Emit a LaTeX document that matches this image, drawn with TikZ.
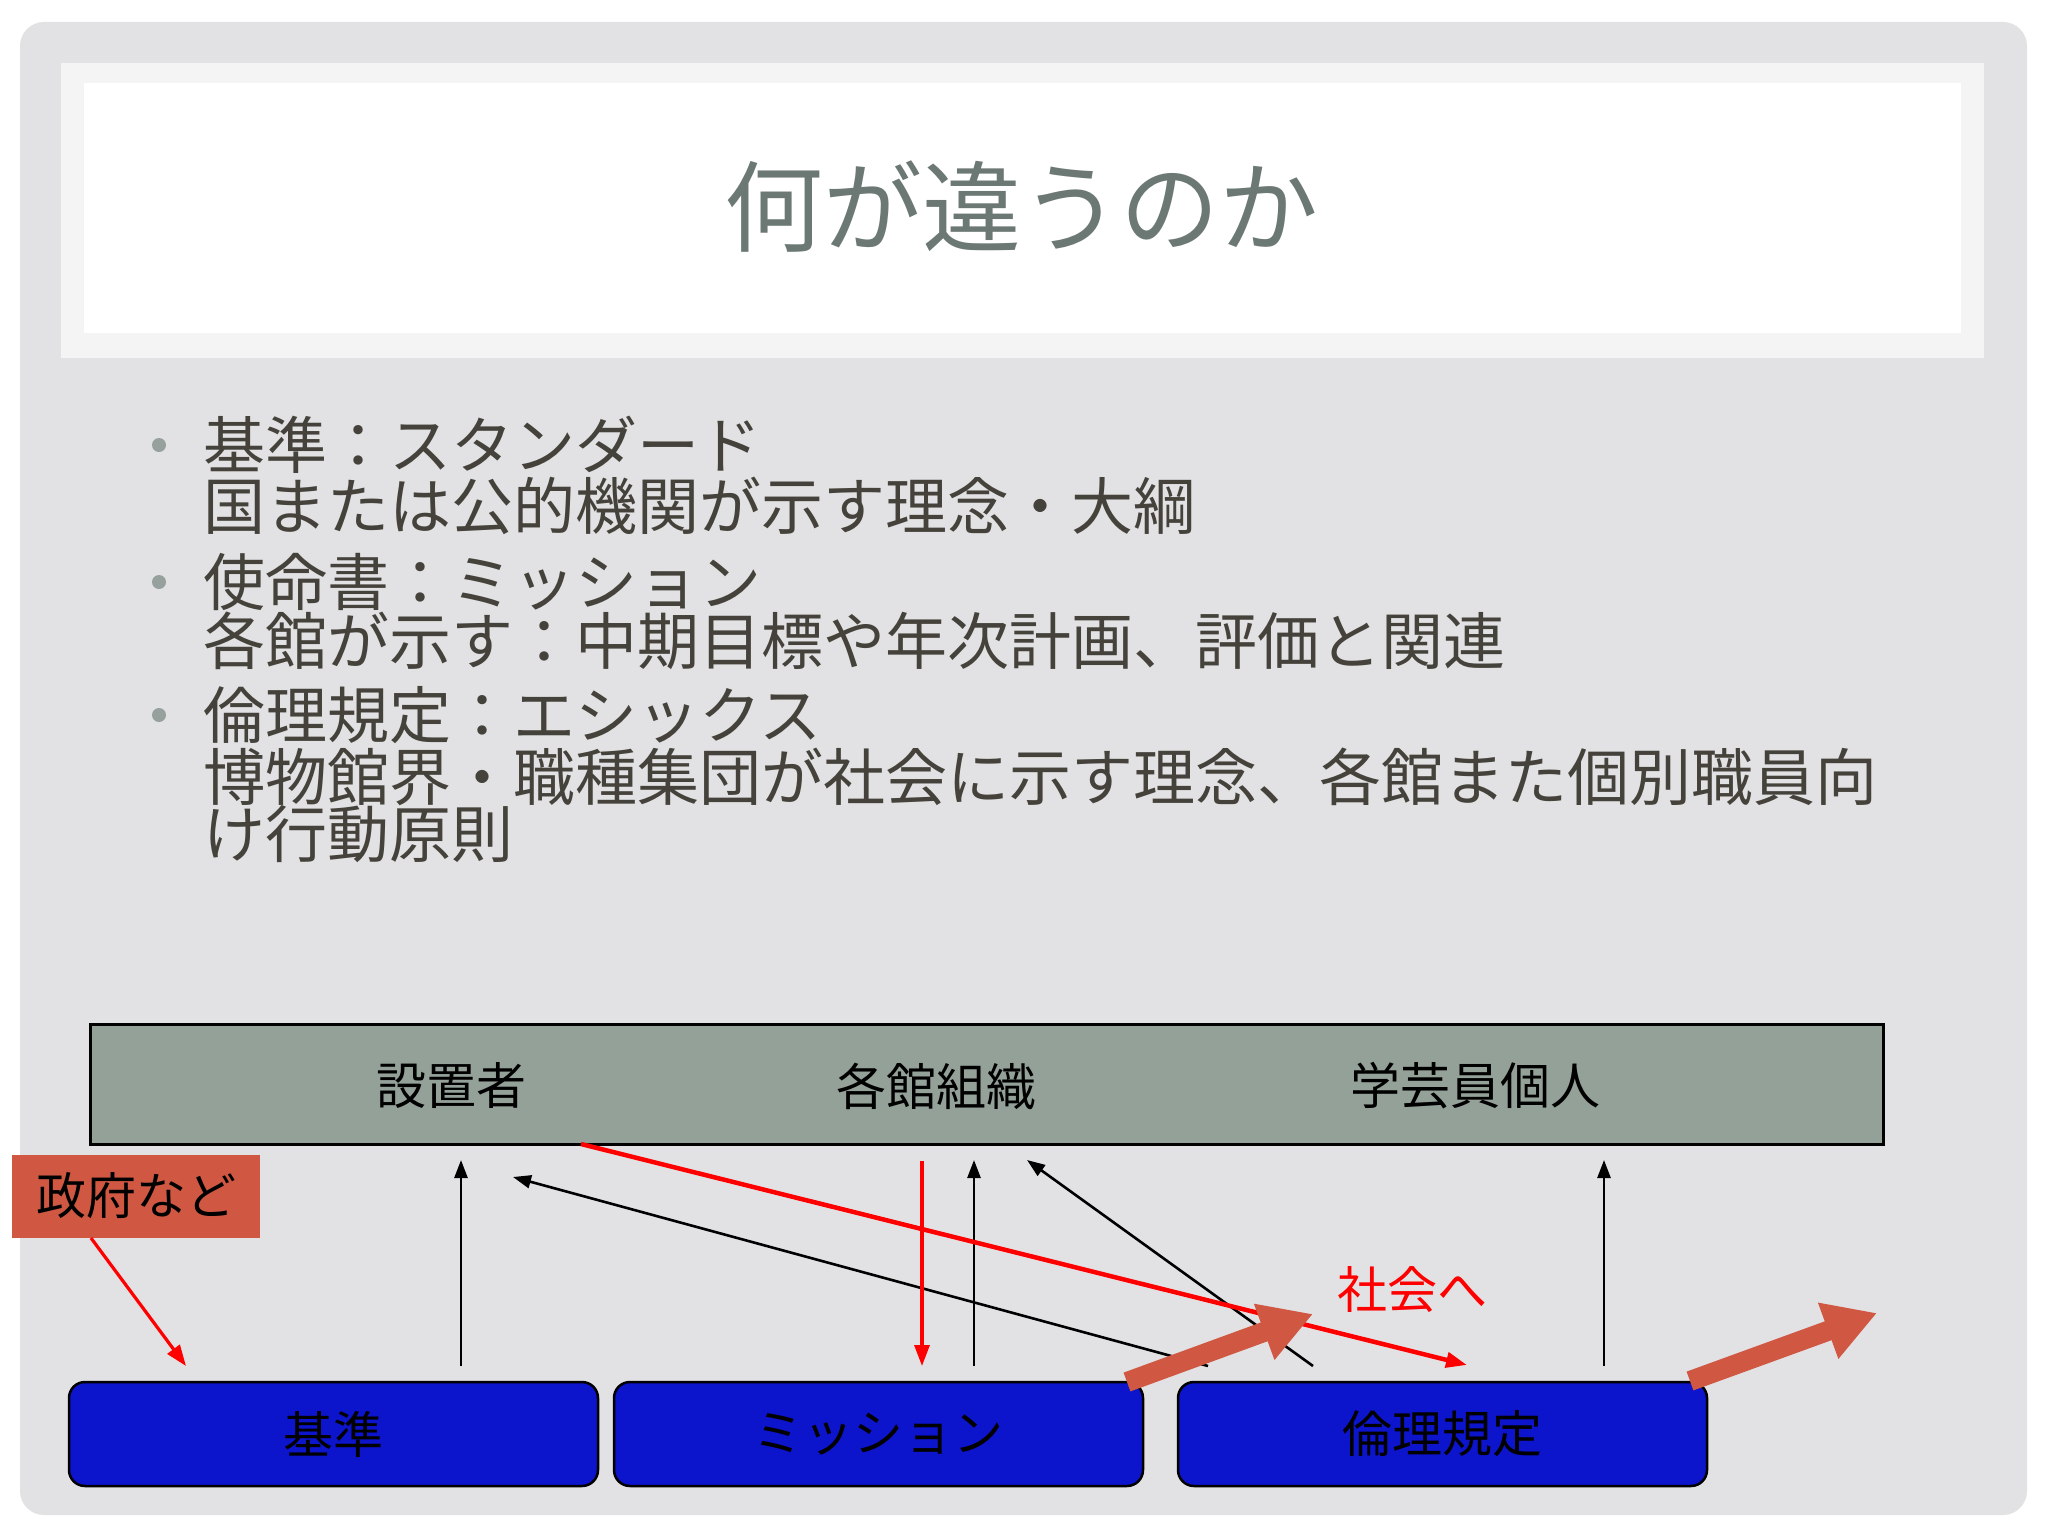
\documentclass[tikz,border=0pt]{standalone}
\usepackage{fontspec}
\setmainfont{Noto Sans CJK JP}
\usetikzlibrary{arrows.meta}
\definecolor{slidebg}{RGB}{226,226,228}
\definecolor{bandbg}{RGB}{244,244,245}
\definecolor{titlegray}{RGB}{108,120,116}
\definecolor{bodytext}{RGB}{68,66,58}
\definecolor{dotgray}{RGB}{150,160,156}
\definecolor{bargray}{RGB}{148,161,153}
\definecolor{boxblue}{RGB}{12,20,204}
\definecolor{salmon}{RGB}{208,88,66}
\tikzset{
  bodyline/.style={anchor=west, inner sep=0pt, text=bodytext,
    font=\fontsize{62pt}{62pt}\selectfont},
  bulletdot/.style={circle, fill=dotgray, inner sep=0pt, minimum size=14pt},
  barlabel/.style={inner sep=0pt, font=\fontsize{50pt}{50pt}\selectfont},
  bluebox/.style={draw=black, line width=2.5pt, fill=boxblue, rounded corners=16pt,
    minimum width=529pt, minimum height=104pt, font=\fontsize{50pt}{50pt}\selectfont},
  thinarrow/.style={-{Triangle[length=18pt,width=13pt]}, line width=2.6pt},
  redarrow/.style={red, -{Triangle[length=21pt,width=15pt]}, line width=3.2pt},
  bigarrow/.style={salmon, line width=20pt, -{Triangle[length=52pt,width=56pt]}}
}

\begin{document}
\begin{tikzpicture}[x=1pt, y=-1pt]
  \useasboundingbox (0,0) rectangle (2048,1536);
  \fill[white] (0,0) rectangle (2048,1536);
  \fill[slidebg, rounded corners=24pt] (20,22) rectangle (2027,1515);
  % title band
  \fill[bandbg] (61,63) rectangle (1984,358);
  \fill[white] (84,83) rectangle (1961,333);
  \node[text=titlegray, font=\fontsize{99pt}{99pt}\selectfont] (title) at (1021,207) {何が違うのか};

  % bullets
  \node[bulletdot] (dot1) at (159,445) {};
  \node[bulletdot] (dot2) at (159,582) {};
  \node[bulletdot] (dot3) at (159,715) {};
  \node[bodyline] (l1) at (203,445) {基準：スタンダード};
  \node[bodyline] (l2) at (203,506) {国または公的機関が示す理念・大綱};
  \node[bodyline] (l3) at (203,582) {使命書：ミッション};
  \node[bodyline] (l4) at (203,641) {各館が示す：中期目標や年次計画、評価と関連};
  \node[bodyline] (l5) at (203,715) {倫理規定：エシックス};
  \node[bodyline] (l6) at (203,777) {博物館界・職種集団が社会に示す理念、各館また個別職員向};
  \node[bodyline] (l7) at (203,834) {け行動原則};

  % diagram
  \node[draw=black, line width=3pt, fill=bargray, minimum width=1793pt, minimum height=120pt] (bar) at (986.5,1084) {};
  \node[barlabel] (setchi) at (451,1086) {設置者};
  \node[barlabel] (kakukan) at (936,1086) {各館組織};
  \node[barlabel] (kojin) at (1475,1086) {学芸員個人};
  \node[fill=salmon, minimum width=248pt, minimum height=83pt, font=\fontsize{50pt}{50pt}\selectfont] (gov) at (136,1196) {政府など};
  \node[bluebox] (kijun) at (333.5,1434) {基準};
  \node[bluebox] (mission) at (878.5,1434) {ミッション};
  \node[bluebox] (rinri) at (1442.5,1434) {倫理規定};
  \node[text=red, inner sep=0pt, font=\fontsize{50pt}{50pt}\selectfont] (shakai) at (1412,1290) {社会へ};

  \coordinate (gs) at (91,1238);   \coordinate (ge) at (186,1366);
  \coordinate (u1s) at (461,1366); \coordinate (u1e) at (461,1160);
  \coordinate (d1s) at (1208,1366); \coordinate (d1e) at (513,1177);
  \coordinate (u2s) at (974,1366); \coordinate (u2e) at (974,1160);
  \coordinate (d2s) at (1313,1366); \coordinate (d2e) at (1027,1160);
  \coordinate (u3s) at (1604,1366); \coordinate (u3e) at (1604,1160);
  \coordinate (rds) at (922,1161); \coordinate (rde) at (922,1366);
  \coordinate (rls) at (581,1144); \coordinate (rle) at (1467,1365);
  \coordinate (b1s) at (1127,1382); \coordinate (b1e) at (1313,1314);
  \coordinate (b2s) at (1690,1381); \coordinate (b2e) at (1877,1313);

  \draw[thinarrow] (u1s) -- (u1e);
  \draw[thinarrow] (d1s) -- (d1e);
  \draw[thinarrow] (u2s) -- (u2e);
  \draw[thinarrow] (d2s) -- (d2e);
  \draw[thinarrow] (u3s) -- (u3e);
  \draw[redarrow] (gs) -- (ge);
  \draw[redarrow] (rds) -- (rde);
  \draw[redarrow, line width=4.5pt] (rls) -- (rle);
  \draw[bigarrow] (b1s) -- (b1e);
  \draw[bigarrow] (b2s) -- (b2e);
\end{tikzpicture}
\end{document}
